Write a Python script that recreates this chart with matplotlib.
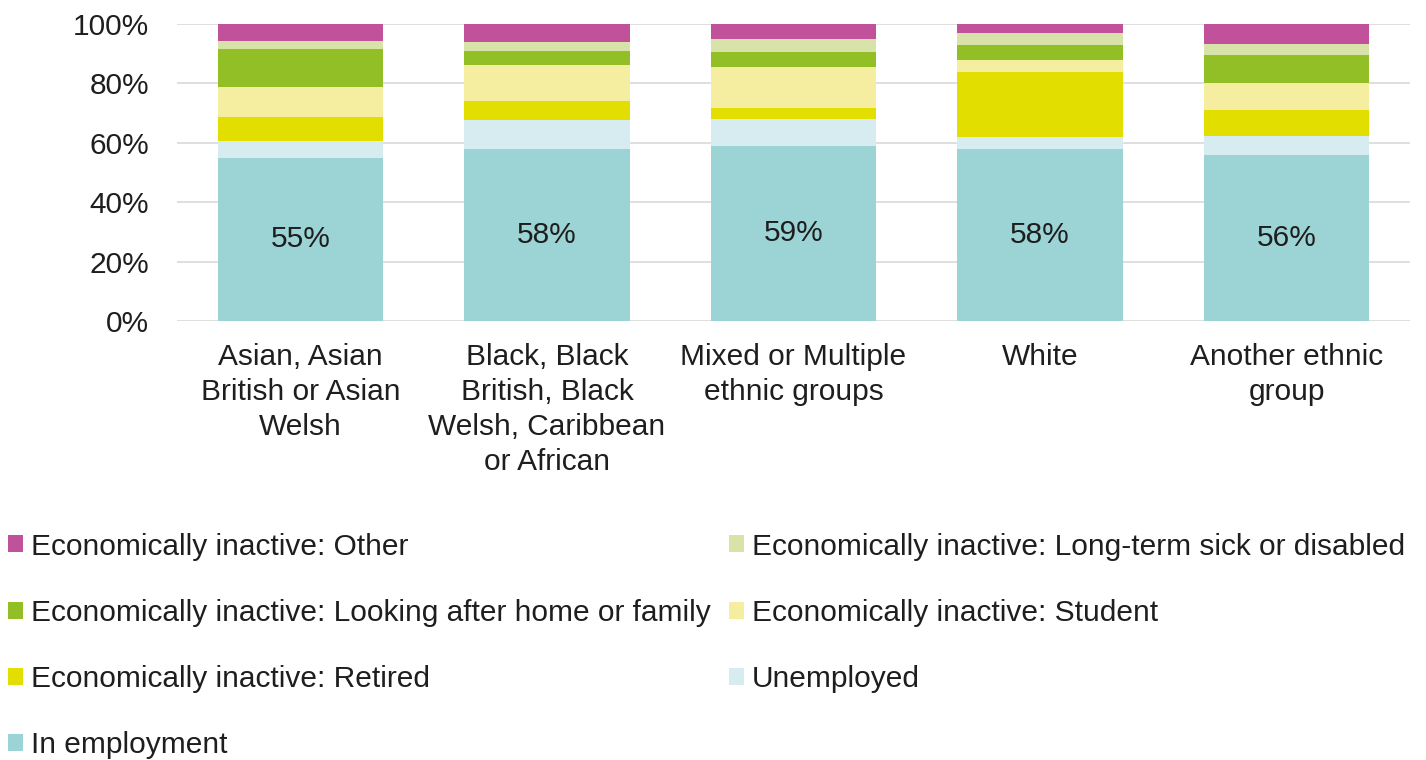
import numpy as np
import matplotlib
matplotlib.use("Agg")
import matplotlib.pyplot as plt
from matplotlib.patches import Patch

plt.rcParams['font.family'] = ['Liberation Sans', 'DejaVu Sans']

groups = ["Asian, Asian\nBritish or Asian\nWelsh",
          "Black, Black\nBritish, Black\nWelsh, Caribbean\nor African",
          "Mixed or Multiple\nethnic groups",
          "White",
          "Another ethnic\ngroup"]

# shares in percent, stacked from the bottom up
in_employment = [55, 58, 59, 58, 56]
unemployed = [5.7, 9.7, 8.9, 4.1, 6.4]
retired = [7.9, 6.5, 3.7, 21.8, 8.6]
student = [10.1, 12.0, 13.8, 4.0, 9.0]
home_family = [12.9, 4.8, 5.3, 5.0, 9.6]
sick_disabled = [2.7, 3.0, 4.1, 4.0, 3.6]
other = [5.7, 6.0, 5.2, 3.1, 6.8]

series = [
    ("In employment", in_employment, "#9CD3D5"),
    ("Unemployed", unemployed, "#D7ECF0"),
    ("Economically inactive: Retired", retired, "#E2DE00"),
    ("Economically inactive: Student", student, "#F5EDA0"),
    ("Economically inactive: Looking after home or family", home_family, "#92BF25"),
    ("Economically inactive: Long-term sick or disabled", sick_disabled, "#D7E3A9"),
    ("Economically inactive: Other", other, "#C1519A"),
]

fig = plt.figure(figsize=(14.26, 7.6), dpi=100)
ax = fig.add_axes([0.1241, 0.5776, 0.8647, 0.3908])

x = np.arange(len(groups))
bottom = np.zeros(len(groups))
for name, vals, col in series:
    ax.bar(x, vals, width=0.67, bottom=bottom, color=col, zorder=2)
    bottom += np.array(vals)

# value labels in the middle of the employment bars
for xi, v in zip(x, in_employment):
    ax.text(xi, v / 2, f"{v}%", ha="center", va="center", fontsize=21.5, color="#1E1E1E", zorder=3)

ax.set_xlim(-0.5, len(groups) - 0.5)
ax.set_ylim(0, 100)
ax.set_yticks(range(0, 101, 20))
ax.set_yticklabels([f"{t}%" for t in range(0, 101, 20)])
ax.set_xticks(x)
ax.set_xticklabels(groups, linespacing=1.32)
ax.tick_params(axis="both", length=0, labelsize=21.5, colors="#1E1E1E")
ax.tick_params(axis="y", pad=20)
ax.tick_params(axis="x", pad=16)
ax.grid(axis="y", color="#D9D9D9", linewidth=1.2, zorder=0)
for s in ax.spines.values():
    s.set_visible(False)

# legend: two columns, filled column by column
by_name = {name: col for name, vals, col in series}
order = ["Economically inactive: Other",
         "Economically inactive: Looking after home or family",
         "Economically inactive: Retired",
         "In employment",
         "Economically inactive: Long-term sick or disabled",
         "Economically inactive: Student",
         "Unemployed"]
handles = [Patch(facecolor=by_name[n], edgecolor="none") for n in order]
fig.legend(handles, order, ncol=2, loc="lower left", bbox_to_anchor=(8 / 1426, 0.001),
           frameon=False, fontsize=21.5, handlelength=0.5, handleheight=0.5,
           handletextpad=0.27, labelspacing=1.28, columnspacing=0.62,
           borderaxespad=0, borderpad=0, labelcolor="#1E1E1E")

fig.savefig("out.png", dpi=100)
